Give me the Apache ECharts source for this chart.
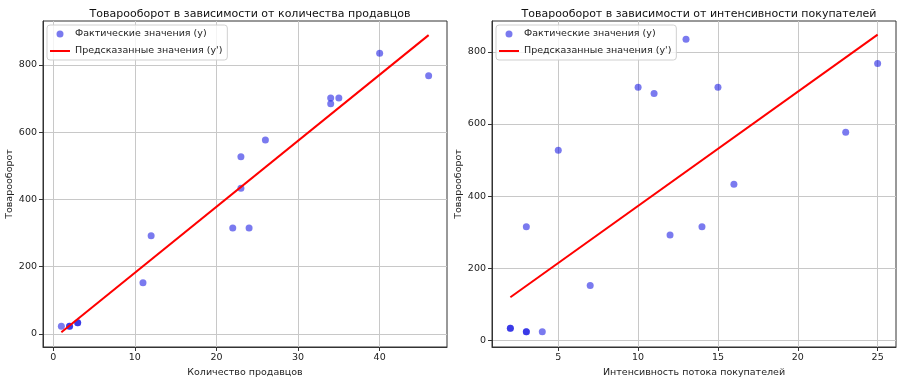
<!DOCTYPE html>
<html>
<head>
<meta charset="utf-8">
<script src="https://cdn.jsdelivr.net/npm/echarts@6/dist/echarts.min.js"></script>
<style>
  html, body { margin: 0; padding: 0; background: #fff; }
  #chart { width: 900px; height: 383px; }
</style>
</head>
<body>
<div id="chart"></div>
<script>
// data
const sellers = [1, 2, 2, 3, 3, 11, 12, 22, 23, 23, 24, 26, 34, 34, 35, 40, 46];
const flow = [4, 3, 3, 2, 2, 7, 12, 3, 5, 16, 14, 23, 10, 11, 15, 13, 25];
const turnover = [23, 23, 23, 33, 33, 152, 292, 315, 527, 433, 315, 577, 702, 685, 702, 835, 768];

const predSellersX = [1, 46];
const predSellersY = [5, 889];
const predFlowX = [2, 25];
const predFlowY = [119, 848];

const leftXTicks = [0, 10, 20, 30, 40];
const rightXTicks = [5, 10, 15, 20, 25];
const leftYTicks = [0, 200, 400, 600, 800];
const rightYTicks = [0, 200, 400, 600, 800];

const NAME_Y = 'Фактические значения (y)';
const NAME_P = "Предсказанные значения (y')";
const FONT = 'DejaVu Sans';

const pairs = (xs, ys) => xs.map((x, i) => [x, ys[i]]);

const chart = echarts.init(document.getElementById('chart'));

function xAxisOf(idx, min, max, ticks, name) {
  return {
    type: 'value', gridIndex: idx, min: min, max: max,
    name: name, nameLocation: 'middle', nameGap: 21,
    nameTextStyle: { color: '#222', fontSize: 9.5, fontFamily: FONT },
    axisLine: { show: true, onZero: false, lineStyle: { color: '#333' } },
    axisTick: { show: true, customValues: ticks, length: 4, lineStyle: { color: '#333' } },
    axisLabel: { customValues: ticks, color: '#222', fontSize: 9.5, fontFamily: FONT, margin: 6 },
    splitLine: { show: true, lineStyle: { color: '#c8c8c8', width: 1 } }
  };
}

function yAxisOf(idx, min, max, ticks) {
  return {
    type: 'value', gridIndex: idx, min: min, max: max,
    name: 'Товарооборот', nameLocation: 'middle', nameGap: 28,
    nameTextStyle: { color: '#222', fontSize: 9.5, fontFamily: FONT },
    axisLine: { show: true, onZero: false, lineStyle: { color: '#333' } },
    axisTick: { show: true, customValues: ticks, length: 4, lineStyle: { color: '#333' } },
    axisLabel: { customValues: ticks, color: '#222', fontSize: 9.5, fontFamily: FONT, margin: 6 },
    splitLine: { show: true, lineStyle: { color: '#c8c8c8', width: 1 } }
  };
}

function legendAt(left) {
  return {
    left: left, top: 25, orient: 'vertical',
    data: [
      { name: NAME_Y, icon: 'circle' },
      { name: NAME_P, icon: 'path://M0,0 L20,0 L20,2 L0,2 Z' }
    ],
    itemWidth: 20, itemHeight: 7, itemGap: 7,
    symbolKeepAspect: true,
    backgroundColor: 'rgba(255,255,255,0.8)',
    borderColor: '#d0d0d0', borderWidth: 1, borderRadius: 3,
    padding: [4, 5, 4, 3],
    textStyle: { color: '#222', fontSize: 9.5, fontFamily: FONT },
    selectedMode: false
  };
}

const option = {
  backgroundColor: '#fff',
  animation: false,
  title: [
    {
      text: 'Товарооборот в зависимости от количества продавцов',
      left: 245, top: 4, textAlign: 'center',
      textStyle: { color: '#111', fontSize: 11, fontWeight: 'normal', fontFamily: FONT }
    },
    {
      text: 'Товарооборот в зависимости от интенсивности покупателей',
      left: 694, top: 4, textAlign: 'center',
      textStyle: { color: '#111', fontSize: 11, fontWeight: 'normal', fontFamily: FONT }
    }
  ],
  legend: [legendAt(47), legendAt(496)],
  grid: [
    { left: 43, right: 453, top: 21, bottom: 34, show: true, borderColor: '#333', borderWidth: 1 },
    { left: 492, right: 4, top: 21, bottom: 34, show: true, borderColor: '#333', borderWidth: 1 }
  ],
  xAxis: [
    xAxisOf(0, -1.25, 48.25, leftXTicks, 'Количество продавцов'),
    xAxisOf(1, 0.85, 26.15, rightXTicks, 'Интенсивность потока покупателей')
  ],
  yAxis: [
    yAxisOf(0, -39, 931, leftYTicks),
    yAxisOf(1, -19, 886, rightYTicks)
  ],
  series: [
    {
      name: NAME_Y, type: 'scatter', xAxisIndex: 0, yAxisIndex: 0,
      data: pairs(sellers, turnover), symbolSize: 7,
      itemStyle: { color: 'rgba(0,0,225,0.65)' }
    },
    {
      name: NAME_P, type: 'line', xAxisIndex: 0, yAxisIndex: 0,
      data: pairs(predSellersX, predSellersY), symbol: 'none',
      lineStyle: { color: '#ff0000', width: 2 }, itemStyle: { color: '#ff0000' }
    },
    {
      name: NAME_Y, type: 'scatter', xAxisIndex: 1, yAxisIndex: 1,
      data: pairs(flow, turnover), symbolSize: 7,
      itemStyle: { color: 'rgba(0,0,225,0.65)' }
    },
    {
      name: NAME_P, type: 'line', xAxisIndex: 1, yAxisIndex: 1,
      data: pairs(predFlowX, predFlowY), symbol: 'none',
      lineStyle: { color: '#ff0000', width: 2 }, itemStyle: { color: '#ff0000' }
    }
  ]
};

chart.setOption(option);
</script>
</body>
</html>
